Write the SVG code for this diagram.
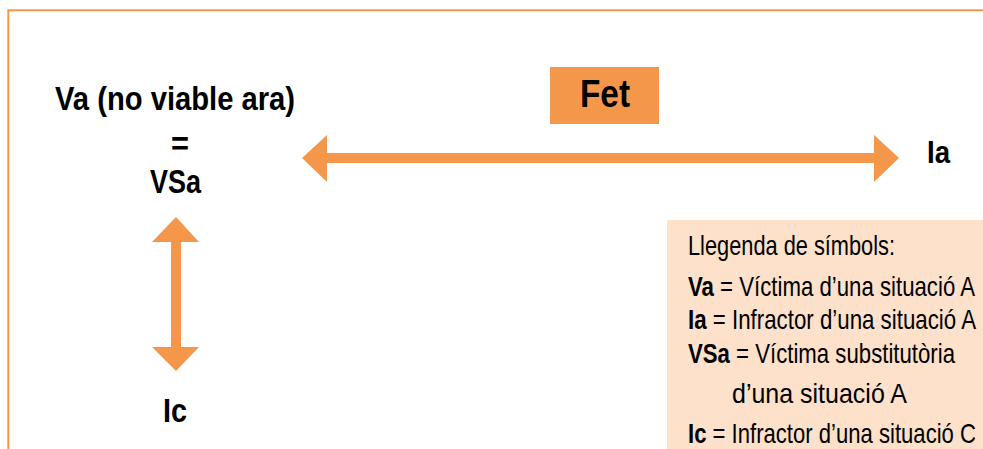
<svg xmlns="http://www.w3.org/2000/svg" width="983" height="449" viewBox="0 0 983 449">
<style>
.t{font-family:"Liberation Sans",Arial,sans-serif;fill:#000}
.b{font-weight:bold}
.lg{font-size:28px}
.arr{fill:#F5974B}
</style>
<rect width="983" height="449" fill="#fff"/>
<path d="M8.3 449 V10.3 H983" fill="none" stroke="#F5974B" stroke-width="2"/>
<g id="legend">
<rect x="667" y="220" width="316" height="229" fill="#FDE1CA"/>
<text class="t lg" x="688" y="255" textLength="207" lengthAdjust="spacingAndGlyphs">Llegenda de símbols:</text>
<text class="t lg" x="688" y="296" textLength="287" lengthAdjust="spacingAndGlyphs"><tspan class="b">Va</tspan> = Víctima d’una situació A</text>
<text class="t lg" x="688" y="329" textLength="288" lengthAdjust="spacingAndGlyphs"><tspan class="b">Ia</tspan> = Infractor d’una situació A</text>
<text class="t lg" x="688" y="363" textLength="267" lengthAdjust="spacingAndGlyphs"><tspan class="b">VSa</tspan> = Víctima substitutòria</text>
<text class="t lg" x="732" y="403" textLength="175" lengthAdjust="spacingAndGlyphs">d’una situació A</text>
<text class="t lg" x="688" y="443" textLength="288" lengthAdjust="spacingAndGlyphs"><tspan class="b">Ic</tspan> = Infractor d’una situació C</text>
</g>
<g id="va">
<text class="t b" x="175" y="110" font-size="34" text-anchor="middle" textLength="240" lengthAdjust="spacingAndGlyphs">Va (no viable ara)</text>
<text class="t b" x="180" y="155" font-size="34" text-anchor="middle" textLength="18" lengthAdjust="spacingAndGlyphs">=</text>
<text class="t b" x="175.5" y="193" font-size="33" text-anchor="middle" textLength="51" lengthAdjust="spacingAndGlyphs">VSa</text>
</g>
<g id="fet">
<rect x="550" y="67" width="109" height="57" fill="#F5974B"/>
<text class="t b" x="605" y="107" font-size="39" text-anchor="middle" textLength="50" lengthAdjust="spacingAndGlyphs">Fet</text>
</g>
<g id="ia">
<text class="t b" x="927" y="163" font-size="32" textLength="23" lengthAdjust="spacingAndGlyphs">Ia</text>
</g>
<g id="ic">
<text class="t b" x="175" y="422" font-size="33" text-anchor="middle" textLength="24" lengthAdjust="spacingAndGlyphs">Ic</text>
</g>
<g id="connectors">
<polygon class="arr" points="302,158 327,135 327,153 874,153 874,135 899,158 874,182 874,163 327,163 327,182"/>
<polygon class="arr" points="176,217 199,242 181,242 181,347 199,347 176,371 152,347 171,347 171,242 152,242"/>
</g>
</svg>
